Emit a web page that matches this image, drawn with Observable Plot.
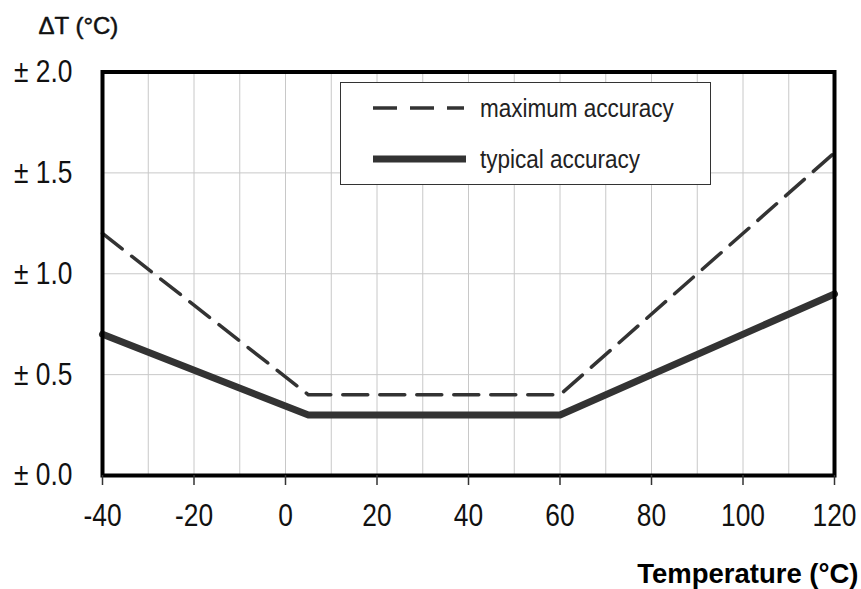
<!DOCTYPE html>
<html>
<head>
<meta charset="utf-8">
<script src="https://cdn.jsdelivr.net/npm/d3@7"></script>
<script src="https://cdn.jsdelivr.net/npm/@observablehq/plot@0.6"></script>
<style>
  html, body { margin: 0; padding: 0; background: #fff; }
  #wrap { position: relative; width: 861px; height: 589px; }
  .legend { position: absolute; left: 340px; top: 82px; width: 369px; height: 101px;
            border: 1.5px solid #333; background: #fff; }
</style>
</head>
<body>
<div id="wrap"></div>
<script>
// ---- data ----
const temperatures = [-40, 5, 60, 120];
const maximumAccuracy = [1.2, 0.4, 0.4, 1.6];
const typicalAccuracy = [0.7, 0.3, 0.3, 0.9];
const seriesNames = ["maximum accuracy", "typical accuracy"];
const xTicks = [-40, -20, 0, 20, 40, 60, 80, 100, 120];
const xGridTicks = [-40, -30, -20, -10, 0, 10, 20, 30, 40, 50, 60, 70, 80, 90, 100, 110, 120];
const yTicks = [0, 0.5, 1.0, 1.5, 2.0];
const yTitle = "ΔT (°C)";
const xTitle = "Temperature (°C)";

const rows = [];
temperatures.forEach((t, i) => {
  rows.push({series: seriesNames[0], t, v: maximumAccuracy[i]});
  rows.push({series: seriesNames[1], t, v: typicalAccuracy[i]});
});
const maxRows = rows.filter(d => d.series === seriesNames[0]);
const typRows = rows.filter(d => d.series === seriesNames[1]);

const lineColor = "#333";
const font = '"Liberation Sans", Arial, sans-serif';

// condense a text element horizontally (reference uses a narrow face)
function condense(el, k) {
  const w = el.getComputedTextLength();
  el.setAttribute("lengthAdjust", "spacingAndGlyphs");
  el.setAttribute("textLength", (w * k).toFixed(2));
}

const chart = Plot.plot({
  width: 861,
  height: 589,
  marginLeft: 102,
  marginRight: 27,
  marginTop: 71.5,
  marginBottom: 114,
  style: {background: "#fff", color: "#111", fontFamily: font, fontSize: "31px", overflow: "visible"},
  x: {domain: [-40, 120]},
  y: {domain: [0, 2]},
  marks: [
    Plot.gridX(xGridTicks, {stroke: "#c8c8c8", strokeOpacity: 1, strokeWidth: 1}),
    Plot.gridY(yTicks, {stroke: "#c8c8c8", strokeOpacity: 1, strokeWidth: 1}),
    Plot.line(maxRows, {x: "t", y: "v", stroke: lineColor, strokeWidth: 3.5, strokeDasharray: "25,12"}),
    Plot.line(typRows, {x: "t", y: "v", stroke: lineColor, strokeWidth: 7}),
    Plot.frame({stroke: "#000", strokeWidth: 4}),
    Plot.axisX(xTicks, {tickSize: 10, tickPadding: 18, stroke: lineColor, strokeWidth: 1.5, label: null,
      fontSize: 31, tickFormat: d => String(d), ariaLabel: "x-axis"}),
    Plot.axisY(yTicks, {tickSize: 0, tickPadding: 30, label: null, fontSize: 31,
      tickFormat: d => "± " + d.toFixed(1), ariaLabel: "y-axis"}),
    Plot.text([yTitle], {frameAnchor: "top-left", text: d => d, textAnchor: "start", lineAnchor: "bottom",
      dx: -64, dy: -38.5, fontSize: 24, fontFamily: font, fill: "#111", stroke: "#111", strokeWidth: 0.5}),
    Plot.text([xTitle], {frameAnchor: "bottom-right", text: d => d, textAnchor: "end", lineAnchor: "bottom",
      dx: 24, dy: 107, fontSize: 27.5, fontWeight: "bold", fontFamily: font, fill: "#000"})
  ]
});
const wrap = document.getElementById("wrap");
wrap.appendChild(chart);

// narrow the tick labels like the reference's condensed face
chart.querySelectorAll('g[aria-label="x-axis tick label"] text, g[aria-label="y-axis tick label"] text')
  .forEach(el => condense(el, 0.85));

// ---- legend (HTML overlay built from series names) ----
const legend = document.createElement("div");
legend.className = "legend";
const styles = [
  {dash: "24,13", width: 3.5, cy: 25},
  {dash: null, width: 7, cy: 76}
];
const ns = "http://www.w3.org/2000/svg";
const svg = document.createElementNS(ns, "svg");
svg.setAttribute("width", "369");
svg.setAttribute("height", "101");
legend.appendChild(svg);
wrap.appendChild(legend);
seriesNames.forEach((name, i) => {
  const s = styles[i];
  const ln = document.createElementNS(ns, "line");
  ln.setAttribute("x1", 32); ln.setAttribute("x2", 123 + i * 2);
  ln.setAttribute("y1", s.cy); ln.setAttribute("y2", s.cy);
  ln.setAttribute("stroke", lineColor);
  ln.setAttribute("stroke-width", s.width);
  if (s.dash) ln.setAttribute("stroke-dasharray", s.dash);
  svg.appendChild(ln);
  const tx = document.createElementNS(ns, "text");
  tx.setAttribute("x", 139);
  tx.setAttribute("y", s.cy + 9);
  tx.setAttribute("font-size", "25");
  tx.setAttribute("font-family", font);
  tx.setAttribute("fill", "#222");
  tx.textContent = name;
  svg.appendChild(tx);
  condense(tx, 0.9);
});
</script>
</body>
</html>
